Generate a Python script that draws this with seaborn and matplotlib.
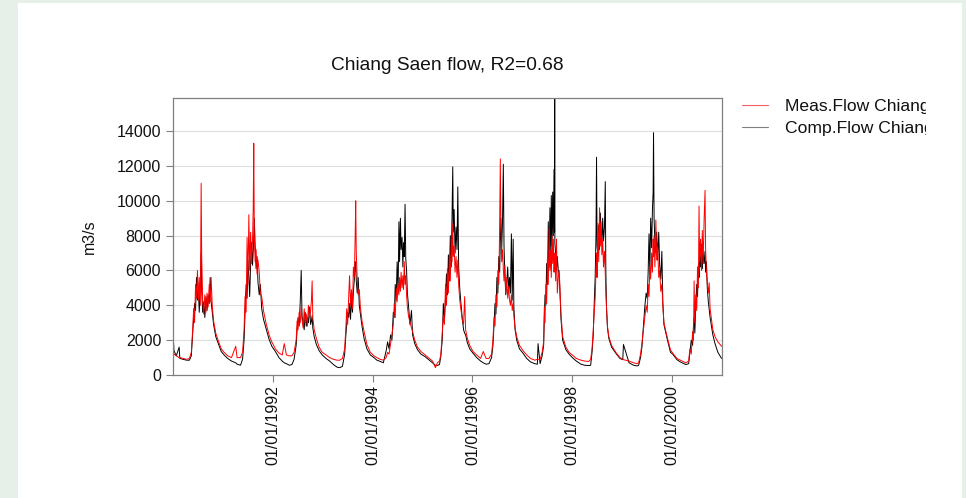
import matplotlib.pyplot as plt
import seaborn as sns
import pandas as pd
from matplotlib.patches import Rectangle
from matplotlib.lines import Line2D
from matplotlib.transforms import Bbox, TransformedBbox

# flow at Chiang Saen (m3/s)
dates = [
    # 1990
    "1990-01-01", "1990-01-08", "1990-01-25", "1990-02-15", "1990-02-20", "1990-03-15", "1990-04-10",
    "1990-05-01", "1990-05-15", "1990-05-25", "1990-06-01", "1990-06-08", "1990-06-15", "1990-06-22",
    "1990-06-29", "1990-07-06", "1990-07-12", "1990-07-20", "1990-07-26", "1990-07-30", "1990-08-06",
    "1990-08-14", "1990-08-22", "1990-08-30", "1990-09-07", "1990-09-15", "1990-09-23", "1990-09-30",
    "1990-10-07", "1990-10-15", "1990-10-25", "1990-11-10", "1990-12-01", "1990-12-20",
    # 1991
    "1991-01-10", "1991-02-05", "1991-03-05", "1991-04-05", "1991-04-15", "1991-05-10", "1991-05-25",
    "1991-06-05", "1991-06-12", "1991-06-20", "1991-06-27", "1991-07-03", "1991-07-10", "1991-07-16",
    "1991-07-23", "1991-07-30", "1991-08-06", "1991-08-11", "1991-08-15", "1991-08-19", "1991-08-25",
    "1991-09-01", "1991-09-08", "1991-09-15", "1991-09-24", "1991-10-02", "1991-10-12", "1991-10-25",
    "1991-11-12", "1991-12-05", "1991-12-25",
    # 1992
    "1992-01-20", "1992-02-15", "1992-03-10", "1992-03-25", "1992-04-10", "1992-05-01", "1992-05-20",
    "1992-06-05", "1992-06-20", "1992-06-27", "1992-07-04", "1992-07-12", "1992-07-20", "1992-07-27",
    "1992-08-02", "1992-08-10", "1992-08-18", "1992-08-25", "1992-09-02", "1992-09-10", "1992-09-18",
    "1992-09-26", "1992-10-04", "1992-10-10", "1992-10-15", "1992-10-20", "1992-10-30", "1992-11-15",
    "1992-12-05", "1992-12-28",
    # 1993
    "1993-01-25", "1993-02-20", "1993-03-20", "1993-04-15", "1993-05-05", "1993-05-25", "1993-06-10",
    "1993-06-18", "1993-06-25", "1993-07-02", "1993-07-10", "1993-07-16", "1993-07-23", "1993-07-30",
    "1993-08-06", "1993-08-13", "1993-08-20", "1993-08-26", "1993-08-30", "1993-09-03", "1993-09-10",
    "1993-09-17", "1993-09-25", "1993-10-03", "1993-10-15", "1993-10-30", "1993-11-20", "1993-12-15",
    # 1994
    "1994-01-10", "1994-02-01", "1994-02-25", "1994-03-20", "1994-04-10", "1994-04-20", "1994-05-01",
    "1994-05-12", "1994-05-22", "1994-06-01", "1994-06-08", "1994-06-15", "1994-06-22", "1994-06-29",
    "1994-07-06", "1994-07-12", "1994-07-17", "1994-07-23", "1994-07-28", "1994-08-04", "1994-08-10",
    "1994-08-15", "1994-08-20", "1994-08-26", "1994-08-31", "1994-09-06", "1994-09-12", "1994-09-20",
    "1994-10-01", "1994-10-12", "1994-10-20", "1994-11-05", "1994-11-25", "1994-12-20",
    # 1995
    "1995-01-20", "1995-02-20", "1995-03-15", "1995-04-05", "1995-04-20", "1995-05-05", "1995-05-15",
    "1995-05-25", "1995-06-02", "1995-06-10", "1995-06-18", "1995-06-25", "1995-07-02", "1995-07-09",
    "1995-07-16", "1995-07-23", "1995-07-30", "1995-08-05", "1995-08-10", "1995-08-14", "1995-08-20",
    "1995-08-27", "1995-09-03", "1995-09-10", "1995-09-16", "1995-09-22", "1995-09-30", "1995-10-08",
    "1995-10-18", "1995-10-28", "1995-11-05", "1995-11-12", "1995-11-25", "1995-12-12",
    # 1996
    "1996-01-05", "1996-02-01", "1996-03-01", "1996-03-20", "1996-04-10", "1996-05-01", "1996-05-20",
    "1996-05-30", "1996-06-07", "1996-06-14", "1996-06-21", "1996-06-28", "1996-07-05", "1996-07-12",
    "1996-07-18", "1996-07-23", "1996-07-27", "1996-08-02", "1996-08-08", "1996-08-14", "1996-08-19",
    "1996-08-25", "1996-09-01", "1996-09-08", "1996-09-15", "1996-09-22", "1996-09-28", "1996-10-05",
    "1996-10-12", "1996-10-18", "1996-10-25", "1996-10-30", "1996-11-08", "1996-11-20", "1996-12-10",
    # 1997
    "1997-01-05", "1997-02-01", "1997-03-01", "1997-04-01", "1997-04-20", "1997-04-25", "1997-05-10",
    "1997-05-25", "1997-06-05", "1997-06-10", "1997-06-15", "1997-06-21", "1997-06-27", "1997-07-03",
    "1997-07-09", "1997-07-15", "1997-07-21", "1997-07-27", "1997-07-31", "1997-08-05", "1997-08-10",
    "1997-08-15", "1997-08-20", "1997-08-24", "1997-08-25", "1997-08-26", "1997-09-01", "1997-09-07",
    "1997-09-13", "1997-09-20", "1997-09-27", "1997-10-10", "1997-10-22", "1997-11-15", "1997-12-08",
    # 1998
    "1998-01-01", "1998-01-30", "1998-03-05", "1998-04-01", "1998-05-01", "1998-05-15", "1998-05-25",
    "1998-06-03", "1998-06-10", "1998-06-17", "1998-06-23", "1998-06-27", "1998-07-01", "1998-07-07",
    "1998-07-13", "1998-07-19", "1998-07-25", "1998-07-30", "1998-08-05", "1998-08-11", "1998-08-17",
    "1998-08-24", "1998-08-30", "1998-09-03", "1998-09-08", "1998-09-15", "1998-09-25", "1998-10-15",
    "1998-11-15", "1998-12-15",
    # 1999
    "1999-01-05", "1999-01-10", "1999-02-20", "1999-03-25", "1999-04-20", "1999-05-01", "1999-05-15",
    "1999-05-25", "1999-06-05", "1999-06-15", "1999-06-25", "1999-07-03", "1999-07-10", "1999-07-16",
    "1999-07-22", "1999-07-28", "1999-08-04", "1999-08-10", "1999-08-15", "1999-08-18", "1999-08-22",
    "1999-08-28", "1999-09-04", "1999-09-10", "1999-09-17", "1999-09-25", "1999-10-02", "1999-10-10",
    "1999-10-18", "1999-10-25", "1999-11-02", "1999-11-25", "1999-12-20",
    # 2000
    "2000-01-05", "2000-02-05", "2000-03-01", "2000-04-10", "2000-05-01", "2000-05-10", "2000-05-20",
    "2000-05-30", "2000-06-05", "2000-06-10", "2000-06-15", "2000-06-22", "2000-06-29", "2000-07-05",
    "2000-07-11", "2000-07-16", "2000-07-20", "2000-07-27", "2000-08-03", "2000-08-09", "2000-08-15",
    "2000-08-22", "2000-08-29", "2000-09-02", "2000-09-08", "2000-09-15", "2000-09-22", "2000-09-28",
    "2000-10-05", "2000-10-15", "2000-10-25", "2000-11-10", "2000-12-01", "2000-12-28",
]

meas_flow = [
    # 1990
    1300, 1200, 1100, 1000, 1000, 950, 900,
    950, 1300, 2600, 3800, 3000, 5200, 4400,
    6000, 4300, 5600, 4000, 11000, 6800, 4300,
    3500, 4600, 3600, 4700, 3900, 5200, 4200,
    5600, 4000, 3100, 2400, 1900, 1500,
    # 1991
    1300, 1100, 1000, 1650, 1000, 1000, 1300,
    2600, 4500, 3600, 7900, 5200, 9200, 6000,
    8200, 6400, 7800, 9600, 13300, 8000, 6500,
    7200, 5800, 6600, 5900, 4700, 4500, 3700,
    3000, 2300, 1900,
    # 1992
    1500, 1260, 1150, 1800, 1150, 1100, 1100,
    1300, 2000, 3100, 2600, 3600, 3000, 3900,
    3200, 2700, 3800, 3000, 3500, 2800, 4000,
    3300, 3700, 4300, 5400, 3300, 2600, 2100,
    1600, 1300,
    # 1993
    1150, 1000, 900, 850, 850, 950, 1500,
    2600, 3800, 2900, 4600, 5700, 4000, 4900,
    3800, 6200, 5600, 8000, 10000, 7000, 5500,
    4600, 4900, 3900, 3100, 2500, 1750, 1300,
    # 1994
    1100, 1000, 900, 850, 1000, 1300, 1200,
    1800, 2300, 2900, 4100, 3300, 5000, 4200,
    5200, 4600, 5600, 4800, 5900, 5000, 5700,
    4900, 6500, 5200, 5700, 4600, 3900, 3400,
    3000, 2700, 2500, 2000, 1600, 1350,
    # 1995
    1150, 950, 800, 420, 700, 800, 1200,
    2400, 3400, 2900, 5200, 4000, 6100, 4700,
    6800, 5400, 7800, 6500, 8700, 6800, 7400,
    5900, 6800, 5600, 6600, 5200, 4300, 3800,
    3200, 2900, 4500, 2600, 2100, 1700,
    # 1996
    1350, 1150, 950, 1350, 950, 950, 1200,
    2000, 3300, 2800, 4600, 3900, 6000, 5200,
    8500, 12400, 8800, 6500, 7200, 6100, 5400,
    6300, 4700, 5600, 4400, 5100, 4300, 4000,
    4600, 3700, 4100, 3400, 2700, 2200, 1700,
    # 1997
    1400, 1150, 950, 850, 900, 900, 900,
    1300, 1900, 3900, 3000, 5200, 4100, 6800,
    5200, 8400, 6000, 7200, 5600, 8000, 6400,
    7800, 5900, 6700, 6500, 7000, 5400, 7800,
    4700, 5600, 6000, 3500, 2200, 1600, 1300,
    # 1998
    1150, 950, 850, 800, 780, 900, 1500,
    2600, 3600, 4400, 5900, 7000, 5600, 8700,
    6500, 9600, 7400, 8800, 6900, 7800, 6200,
    7100, 5800, 4700, 3900, 2800, 2200, 1700,
    1300, 1000,
    # 1999
    900, 880, 800, 700, 650, 700, 1200,
    1800, 2600, 3300, 4000, 3600, 5200, 4500,
    6300, 5500, 7000, 5900, 7800, 6800, 8000,
    6200, 8900, 6600, 7400, 5600, 6000, 4800,
    5200, 4000, 3000, 2200, 1450,
    # 2000
    1260, 950, 850, 700, 800, 1500, 1200,
    2500, 2000, 5400, 3000, 4600, 3700, 6200,
    5000, 9700, 6500, 7800, 6000, 8300, 6400,
    8900, 10600, 7200, 6000, 5200, 4700, 5300,
    3800, 3200, 2600, 2200, 1900, 1650,
]

comp_flow = [
    # 1990
    2500, 1400, 1100, 1600, 950, 900, 850,
    850, 1100, 2400, 3300, 4100, 3700, 5600,
    4300, 4900, 3600, 5300, 7000, 4900, 3600,
    4200, 3300, 4500, 3700, 4600, 4100, 5600,
    4200, 3600, 2900, 2200, 1750, 1350,
    # 1991
    1150, 950, 800, 700, 620, 560, 900,
    2000, 3500, 5200, 4400, 6600, 5600, 4500,
    6400, 7600, 6300, 7200, 7800, 9000, 7400,
    6100, 6800, 5300, 4600, 5200, 3800, 3200,
    2700, 2050, 1650,
    # 1992
    1350, 1000, 800, 700, 650, 560, 600,
    900, 1700, 2600, 3300, 2800, 4200, 6000,
    3400, 3000, 2600, 3600, 2800, 3300, 3000,
    3900, 2900, 3100, 3400, 2700, 2200, 1750,
    1400, 1150,
    # 1993
    950, 800, 600, 450, 420, 500, 1200,
    2200, 2900, 3600, 3300, 4100, 3200, 4500,
    3600, 4800, 5500, 6500, 6300, 5400, 4700,
    5600, 4000, 3500, 2800, 2100, 1500, 1150,
    # 1994
    1000, 850, 780, 700, 1400, 1900, 1500,
    2300, 2000, 3600, 3300, 5200, 4300, 6500,
    4700, 8800, 6500, 9000, 7200, 7900, 6200,
    7600, 6800, 9800, 6700, 6000, 4700, 4000,
    2900, 3700, 2300, 1800, 1450, 1200,
    # 1995
    1050, 850, 700, 560, 550, 600, 1100,
    2000, 4100, 3200, 4400, 5800, 4600, 6900,
    5400, 8000, 6200, 9400, 11950, 8200, 9500,
    7000, 8500, 7200, 10800, 6200, 5000, 4200,
    3300, 2600, 2400, 2300, 1850, 1500,
    # 1996
    1250, 1000, 800, 700, 620, 650, 1000,
    1700, 2900, 4100, 3500, 5600, 4700, 6800,
    5900, 7600, 9000, 7200, 8800, 12100, 7400,
    5800, 4600, 5300, 6200, 4800, 5600, 4700,
    8100, 4300, 7800, 3900, 2600, 2000, 1500,
    # 1997
    1250, 950, 750, 650, 620, 1800, 650,
    1100, 1700, 3300, 4600, 4000, 6400, 5200,
    8800, 6200, 9600, 7000, 10300, 7400, 10500,
    8000, 11800, 8200, 17000, 7600, 6900, 6000,
    6800, 6000, 5800, 3200, 2000, 1450, 1200,
    # 1998
    1000, 800, 620, 560, 540, 560, 1300,
    2300, 4100, 5600, 8000, 12500, 7400, 6800,
    8600, 7200, 9300, 8000, 7600, 9000, 7700,
    8500, 11100, 6000, 3800, 2700, 2100, 1600,
    1250, 950,
    # 1999
    880, 1750, 700, 560, 520, 560, 1000,
    1600, 2800, 3900, 4700, 4400, 6000, 8100,
    5800, 9000, 7300, 9500, 10500, 13900, 9000,
    7600, 7000, 8200, 6600, 8200, 6300, 5500,
    7100, 4200, 2900, 2100, 1300,
    # 2000
    1200, 880, 750, 600, 650, 1300, 2000,
    1700, 2800, 3300, 2400, 3900, 5200, 4500,
    6300, 5600, 7000, 6200, 7500, 6100, 7000,
    6400, 7100, 5900, 6500, 4900, 4200, 3800,
    3300, 2800, 2300, 1800, 1300, 950,
]

year_ticks = ["1992-01-01", "1994-01-01", "1996-01-01", "1998-01-01", "2000-01-01"]

df = pd.DataFrame({"Date": pd.to_datetime(dates), "Meas": meas_flow, "Comp": comp_flow})

sns.set_theme(style="white")
plt.rcParams['font.family'] = ['Liberation Sans', 'DejaVu Sans']

W, H = 966, 498
fig = plt.figure(figsize=(W / 100, H / 100), dpi=100, facecolor='#e6efe8')
# white slide panel behind the chart
fig.add_artist(Rectangle((18 / W, 0), (962 - 18) / W, 1 - 3 / H, transform=fig.transFigure,
                         facecolor='white', edgecolor='none', zorder=-1))

ax = fig.add_axes([173 / W, 1 - 375 / H, (722 - 173) / W, (375 - 98) / H])
ax.set_facecolor('white')

sns.lineplot(x="Date", y="Comp", data=df, ax=ax, color='black', lw=0.7)
sns.lineplot(x="Date", y="Meas", data=df, ax=ax, color='red', lw=0.7)

ax.set_xlim(pd.Timestamp("1990-01-01"), pd.Timestamp("2000-12-31"))
ax.set_ylim(0, 15900)
ax.set_yticks(range(0, 14001, 2000))
ax.set_xticks(pd.to_datetime(year_ticks))
ax.set_xticklabels([pd.Timestamp(t).strftime("%d/%m/%Y") for t in year_ticks], rotation=90)

ax.yaxis.grid(True, color='#dddddd', lw=0.8)
ax.set_axisbelow(True)
for s in ax.spines.values():
    s.set_color('#808080')
    s.set_linewidth(0.9)
ax.tick_params(direction='out', length=5, width=0.8, color='#808080', labelsize=11.5,
               labelcolor='#111111', bottom=True, left=True)
ax.tick_params(axis='x', pad=2, labelsize=11.5)

ax.set_xlabel("")
ax.set_ylabel("m3/s", fontsize=11.5, labelpad=14, color='#111111')
ax.set_title("Chiang Saen flow, R2=0.68", fontsize=13.8, pad=20, color='#111111')

handles = [Line2D([], [], color='#f06060', lw=0.8), Line2D([], [], color='#808080', lw=0.8)]
leg = ax.legend(handles, ["Meas.Flow Chiang Saen", "Comp.Flow Chiang Saen"],
                loc='upper left', bbox_to_anchor=(742 / W, 1 - 99 / H), bbox_transform=fig.transFigure,
                frameon=False, fontsize=12.6, handlelength=1.5, handletextpad=0.95,
                labelspacing=0.38, borderpad=0, borderaxespad=0)
# the chart picture was cropped on the right, cutting the legend labels
clip = TransformedBbox(Bbox([[0, 0], [926 / W, 1]]), fig.transFigure)
for t in leg.get_texts():
    t.set_color('#111111')
    t.set_clip_box(clip)
    t.set_clip_on(True)

fig.savefig("out.png", dpi=100, facecolor=fig.get_facecolor())
